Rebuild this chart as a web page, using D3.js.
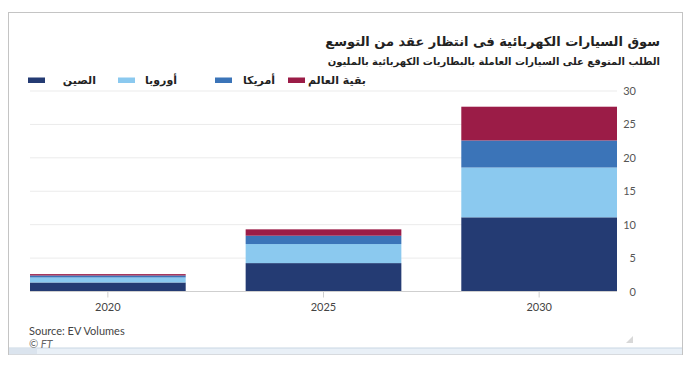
<!DOCTYPE html>
<html><head><meta charset="utf-8">
<script src="https://cdn.jsdelivr.net/npm/d3@7"></script>
<style>
html,body{margin:0;padding:0;background:#fff;}
svg{display:block;}
</style></head>
<body>
<script>
const title = "سوق السيارات الكهربائية فى انتظار عقد من التوسع";
const subtitle = "الطلب المتوقع على السيارات العاملة بالبطاريات الكهربائية بالمليون";
const years = ["2020", "2025", "2030"];
const seriesNames = ["الصين", "أوروبا", "أمريكا", "بقية العالم"];
const seriesKeys = ["china", "europe", "america", "rest"];
const china   = [1.35, 4.25, 11.1];
const europe  = [0.75, 2.85, 7.45];
const america = [0.3, 1.25, 4.05];
const rest    = [0.2, 0.95, 5.05];
const yTicks = [0, 5, 10, 15, 20, 25, 30];
const source = "Source: EV Volumes";
const credit = "© FT";
const colors = ["#243b73", "#8bc9ef", "#3b74b8", "#9b1c47"];

const W = 692, H = 369;
const svg = d3.select("body").append("svg").attr("width", W).attr("height", H);
const arFont = "'DejaVu Sans', 'Noto Sans', sans-serif";
const latFont = "Lato, 'Open Sans', sans-serif";

// frame
svg.append("rect").attr("x", 8.5).attr("y", 12.5).attr("width", 674).attr("height", 342)
  .attr("fill", "#fff").attr("stroke", "#c4c4c4");
svg.append("rect").attr("x", 9).attr("y", 348).attr("width", 673).attr("height", 6.5)
  .attr("fill", "#e9f0f7");
svg.append("line").attr("x1", 9).attr("x2", 682).attr("y1", 348).attr("y2", 348).attr("stroke", "#c9d6e3");
svg.append("rect").attr("x", 9).attr("y", 349).attr("width", 28).attr("height", 5).attr("fill", "#dbe4ee");
svg.append("path").attr("d", "M626,343 L633,343 L633,336 Z").attr("fill", "#d8d8d8");

// titles
svg.append("text").attr("x", 660).attr("y", 46).attr("text-anchor", "end")
  .attr("font-family", arFont).attr("font-weight", "bold")
  .attr("font-size", 13).attr("fill", "#222").text(title);
svg.append("text").attr("x", 660).attr("y", 65).attr("text-anchor", "end")
  .attr("font-family", arFont).attr("font-weight", "bold")
  .attr("font-size", 10).attr("fill", "#222").text(subtitle);

// scales
const x = d3.scaleBand().domain(years).range([30, 617]).paddingInner(0.278).paddingOuter(0);
const y = d3.scaleLinear().domain([0, 30]).range([291.5, 91]);

// gridlines
svg.append("g").selectAll("line").data(yTicks.filter(d => d > 0)).join("line")
  .attr("x1", 30).attr("x2", 617).attr("y1", d => y(d)).attr("y2", d => y(d))
  .attr("stroke", "#ebebeb").attr("stroke-width", 1);

// stacked bars
const rows = years.map((yr, i) => ({year: yr, china: china[i], europe: europe[i], america: america[i], rest: rest[i]}));
const stack = d3.stack().keys(seriesKeys)(rows);
svg.append("g").selectAll("g").data(stack).join("g")
  .attr("fill", (d, i) => colors[i])
  .selectAll("rect").data(d => d).join("rect")
  .attr("x", d => x(d.data.year)).attr("width", x.bandwidth())
  .attr("y", d => y(d[1])).attr("height", d => y(d[0]) - y(d[1]));

// baseline + x axis
svg.append("line").attr("x1", 30).attr("x2", 617).attr("y1", y(0)).attr("y2", y(0))
  .attr("stroke", "#cfcfcf");
const xAxis = svg.append("g").attr("transform", `translate(0,${y(0)})`)
  .call(d3.axisBottom(x).tickSize(6).tickPadding(6));
xAxis.select(".domain").remove();
xAxis.selectAll(".tick line").attr("stroke", "#cfcfcf");
xAxis.selectAll(".tick text").attr("font-family", latFont).attr("font-size", 11).attr("fill", "#444");

// y axis (right)
const yAxis = svg.append("g").attr("transform", `translate(636,0)`)
  .call(d3.axisLeft(y).tickValues(yTicks).tickSize(0).tickPadding(0));
yAxis.select(".domain").remove();
yAxis.selectAll(".tick text").attr("font-family", latFont).attr("font-size", 11).attr("fill", "#555");

// legend
const legendX = [[28, 96], [118, 177], [215, 275], [288, 366]];
const lg = svg.append("g");
seriesNames.forEach((name, i) => {
  lg.append("rect").attr("x", legendX[i][0]).attr("y", 77.5).attr("width", 17).attr("height", 5.5).attr("fill", colors[i]);
  lg.append("text").attr("x", legendX[i][1]).attr("y", 84).attr("text-anchor", "end")
    .attr("font-family", arFont).attr("font-weight", "bold")
    .attr("font-size", 11).attr("fill", "#222").text(name);
});

// source
svg.append("text").attr("x", 29).attr("y", 335).attr("font-family", latFont)
  .attr("font-size", 11).attr("fill", "#444").text(source);
svg.append("text").attr("x", 29).attr("y", 348).attr("font-family", latFont)
  .attr("font-size", 11).attr("font-style", "italic").attr("fill", "#666").text(credit);
</script>
</body></html>
